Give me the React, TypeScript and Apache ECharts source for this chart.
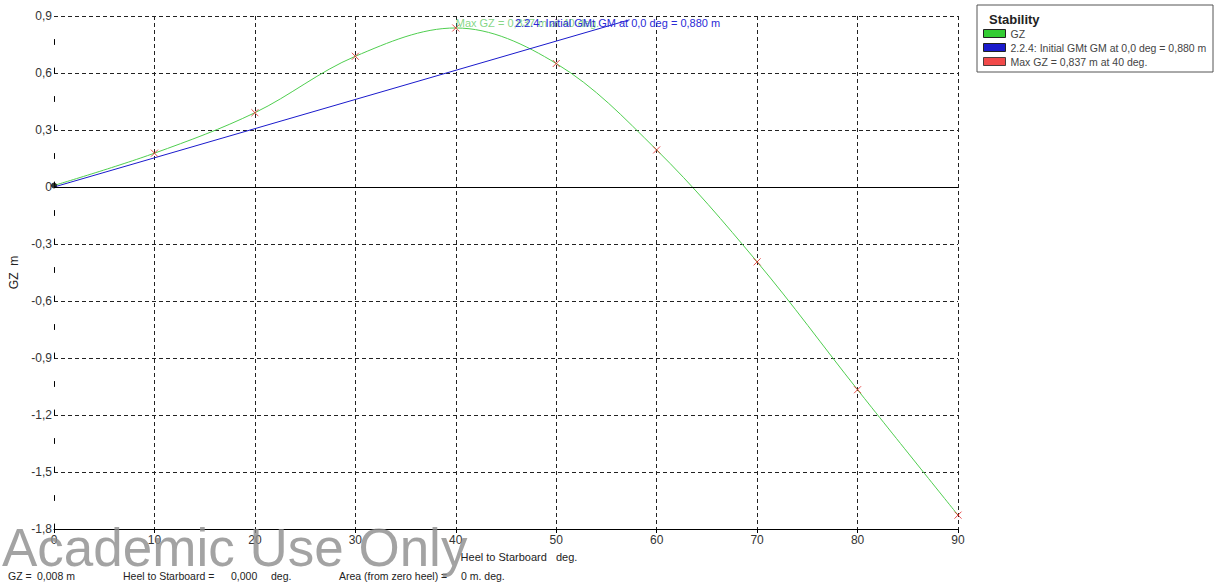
import React, { useEffect, useRef } from "react";
import * as echarts from "echarts";

const heelDeg = [0, 10, 20, 30, 40, 50, 60, 70, 80, 90];
const gzValues = [0.008, 0.178, 0.391, 0.688, 0.837, 0.65, 0.195, -0.394, -1.067, -1.727];
const gmLineDeg = [0, 57.3];
const gmLineValues = [0, 0.88];
const maxGz = [40, 0.837];
const originPoint = [0, 0.008];

const seriesNames = [
  "GZ",
  "2.2.4: Initial GMt GM at 0,0 deg = 0,880 m",
  "Max GZ = 0,837 m at 40 deg.",
];

const FONT = "'Liberation Sans', Arial, sans-serif";

export default function App() {
  const ref = useRef<HTMLDivElement>(null);
  useEffect(() => {
    if (!ref.current) return;
    const chart = echarts.init(ref.current, undefined, { renderer: "svg" });
    const gzData = heelDeg.map((d, i) => [d, gzValues[i]]);
    const gmData = gmLineDeg.map((d, i) => [d, gmLineValues[i]]);
    const fmtY = (v: number) => (Math.abs(v) < 1e-9 ? "0" : v.toFixed(1).replace(".", ","));
    const bottomText = (x: number, text: string) => ({
      type: "text",
      x,
      y: 576,
      style: { text, font: `10.5px ${FONT}`, fill: "#222", verticalAlign: "middle" },
    });
    chart.setOption({
      animation: false,
      textStyle: { fontFamily: FONT },
      grid: { left: 54, right: 259, top: 16, bottom: 53 },
      xAxis: {
        type: "value",
        min: 0,
        max: 90,
        interval: 10,
        name: "Heel to Starboard   deg.",
        nameLocation: "middle",
        nameGap: 22,
        nameTextStyle: { fontSize: 11, color: "#222", padding: [0, 0, 0, 26] },
        axisLine: { show: true, onZero: false, lineStyle: { color: "#000", width: 1 } },
        axisTick: { show: true, length: 4, lineStyle: { color: "#000" } },
        axisLabel: { fontSize: 12, color: "#333", margin: 5 },
        splitLine: {
          show: true,
          showMinLine: false,
          showMaxLine: true,
          lineStyle: { color: "#222", type: [4, 3], width: 1 },
        },
      },
      yAxis: {
        type: "value",
        min: -1.8,
        max: 0.9,
        interval: 0.3,
        name: "GZ  m",
        nameLocation: "middle",
        nameRotate: 90,
        nameGap: 29,
        nameTextStyle: { fontSize: 12, color: "#222" },
        axisLine: { show: true, lineStyle: { color: "#000", width: 1, type: [5, 23.5] } },
        axisTick: { show: false },
        axisLabel: { fontSize: 12, color: "#333", margin: 2, formatter: fmtY },
        splitLine: {
          show: true,
          showMinLine: false,
          lineStyle: { color: "#222", type: [4, 3], width: 1 },
        },
      },
      legend: {
        orient: "vertical",
        left: 978,
        top: 23,
        icon: "rect",
        itemWidth: 22,
        itemHeight: 8,
        itemGap: 3,
        data: seriesNames,
        itemStyle: { borderColor: "#222", borderWidth: 1 },
        textStyle: { fontSize: 10.5, color: "#444", lineHeight: 10, fontFamily: FONT },
        selectedMode: false,
      },
      series: [
        {
          name: seriesNames[0],
          type: "line",
          data: gzData,
          smooth: 0.35,
          showSymbol: false,
          color: "#33cc33",
          lineStyle: { color: "#4fce4f", width: 1 },
          z: 3,
          markLine: {
            silent: true,
            symbol: "none",
            label: { show: false },
            lineStyle: { color: "#000", type: "solid", width: 1 },
            data: [{ yAxis: 0 }],
          },
        },
        {
          name: seriesNames[1],
          type: "line",
          data: gmData,
          showSymbol: false,
          color: "#1a1acc",
          lineStyle: { color: "#1a1acc", width: 1 },
          z: 4,
        },
        {
          name: seriesNames[2],
          type: "scatter",
          data: [maxGz],
          symbolSize: 0.1,
          color: "#ee1c1c",
          z: 6,
          label: {
            show: true,
            position: [0, -5],
            align: "left",
            verticalAlign: "middle",
            formatter: "Max GZ = 0,837 m at 40 deg.",
            fontSize: 11,
            color: "#66cc66",
            fontFamily: FONT,
          },
        },
        {
          type: "scatter",
          data: gzData.slice(1),
          symbol: "path://M0,0L10,10M10,0L0,10",
          symbolSize: 7,
          itemStyle: { color: "none", borderColor: "#e02020", borderWidth: 1 },
          z: 5,
        },
        {
          type: "scatter",
          data: [originPoint],
          symbol: "circle",
          symbolSize: 6,
          itemStyle: { color: "#000" },
          z: 7,
        },
      ],
      graphic: [
        {
          type: "rect",
          shape: { x: 977, y: 5, width: 236, height: 67 },
          style: { fill: "#fff", stroke: "#555", lineWidth: 1 },
          z: -1,
        },
        {
          type: "text",
          x: 989,
          y: 19,
          style: {
            text: "Stability",
            font: `bold 13px ${FONT}`,
            fill: "#222",
            verticalAlign: "middle",
          },
        },
        {
          type: "text",
          x: 515,
          y: 23,
          z: 10,
          style: {
            text: "2.2.4: Initial GMt GM at 0,0 deg = 0,880 m",
            font: `11px ${FONT}`,
            fill: "#2a2ad6",
            verticalAlign: "middle",
          },
        },
        bottomText(8, "GZ ="),
        bottomText(37, "0,008 m"),
        bottomText(123, "Heel to Starboard ="),
        bottomText(231, "0,000"),
        bottomText(271, "deg."),
        bottomText(339, "Area (from zero heel) ="),
        bottomText(461, "0 m. deg."),
        {
          type: "text",
          x: 2,
          y: 547,
          z: 100,
          style: {
            text: "Academic Use Only",
            font: `53px ${FONT}`,
            fill: "rgba(140,140,140,0.8)",
            verticalAlign: "middle",
          },
        },
      ],
    });
    return () => chart.dispose();
  }, []);
  return (
    <div
      ref={ref}
      style={{ position: "fixed", left: 0, top: 0, width: 1217, height: 582, background: "#fff" }}
    />
  );
}
